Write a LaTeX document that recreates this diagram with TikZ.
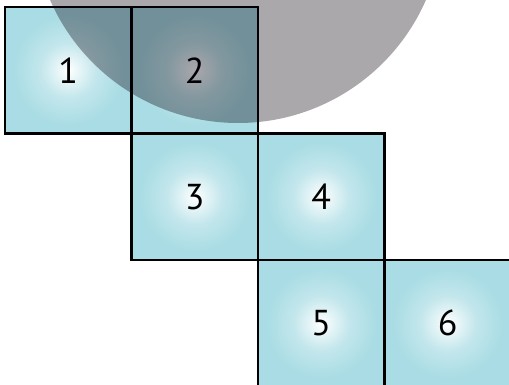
\documentclass[tikz,border=0pt]{standalone}
\usepackage{fontspec}
\setmainfont{PT Sans}
\usetikzlibrary{positioning}
\definecolor{tilecyan}{HTML}{A9DCE4}
\definecolor{disc}{HTML}{08000C}
\pgfdeclareradialshading{tileglow}{\pgfpoint{0bp}{0bp}}{%
  color(0bp)=(white); color(3bp)=(white!80!tilecyan);
  color(11bp)=(white!30!tilecyan); color(22bp)=(tilecyan); color(50bp)=(tilecyan)}

\begin{document}
\begin{tikzpicture}[font=\fontsize{18}{20}\selectfont,
    tile/.style={draw=black, line width=1.25pt, shading=tileglow,
      minimum size=63.25pt, inner sep=0pt, outer sep=0pt}]
  \useasboundingbox (0,0) rectangle (254.5pt,-192.5pt);
  \clip (0,0) rectangle (254.5pt,-192.5pt);
  % staircase of tiles
  \node[tile] (s1) at (34.125pt,-35.125pt) {1};
  \node[tile, right=0pt of s1] (s2) {2};
  \node[tile, below=0pt of s2] (s3) {3};
  \node[tile, right=0pt of s3] (s4) {4};
  \node[tile, below=0pt of s4] (s5) {5};
  \node[tile, right=0pt of s5] (s6) {6};
  % translucent disc over the top
  \fill[disc, opacity=0.34] (119pt,41pt) circle (102.5pt);
\end{tikzpicture}
\end{document}
